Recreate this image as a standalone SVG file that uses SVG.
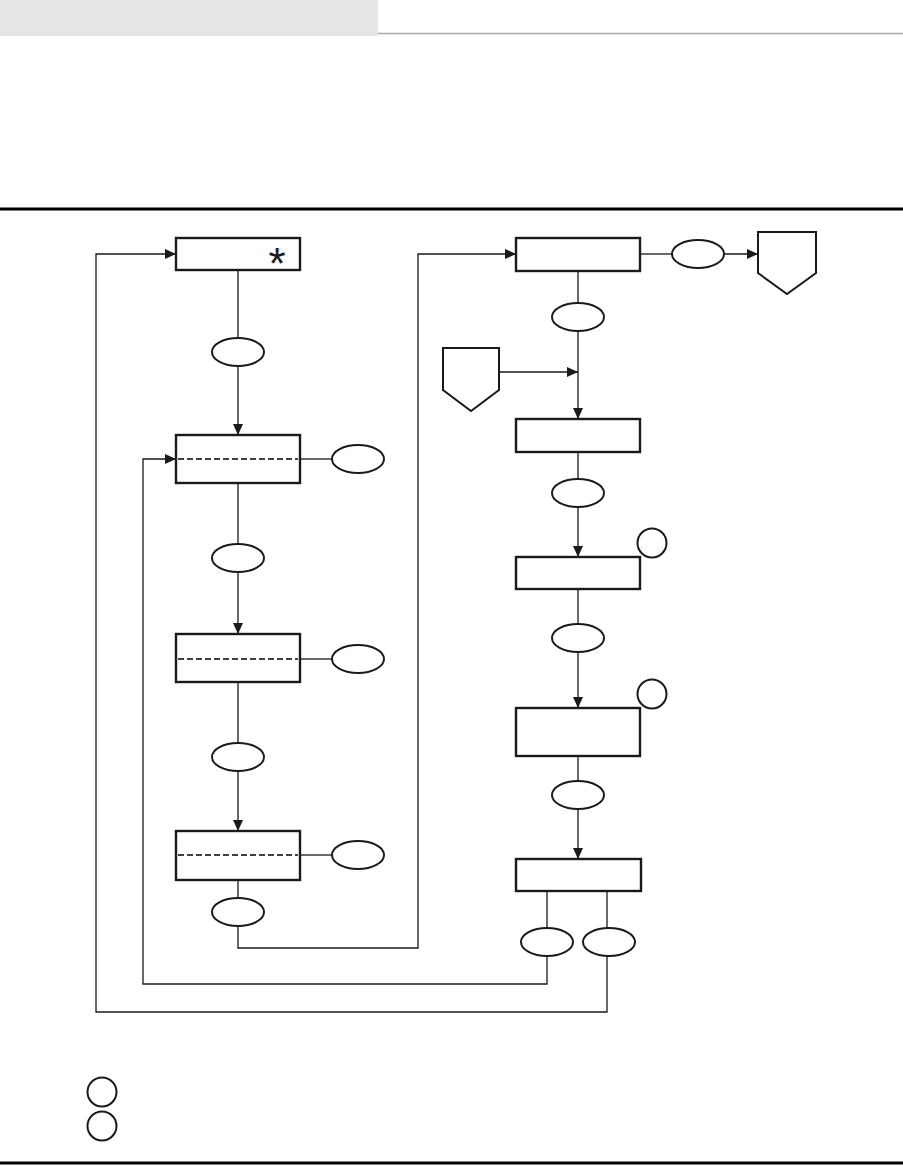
<svg xmlns="http://www.w3.org/2000/svg" width="903" height="1166" viewBox="0 0 903 1166">
<style>
.box{fill:#fff;stroke:#1a1a1a;stroke-width:2.4}
.ell{fill:#fff;stroke:#1a1a1a;stroke-width:2}
.circ{fill:none;stroke:#1a1a1a;stroke-width:2}
.ln{fill:none;stroke:#1a1a1a;stroke-width:1.3}
.dash{fill:none;stroke:#000;stroke-width:1.4;stroke-dasharray:6 3}
.pent{fill:#fff;stroke:#1a1a1a;stroke-width:2}
</style>
<defs>
<marker id="ah" markerUnits="userSpaceOnUse" markerWidth="12" markerHeight="10" refX="11" refY="5" orient="auto">
<path d="M0,0 L11,5 L0,10 Z" fill="#1a1a1a"/>
</marker>
</defs>
<rect width="903" height="1166" fill="#fff"/>
<rect x="0" y="0" width="378" height="36" fill="#e5e5e5"/>
<line x1="378" y1="33.5" x2="903" y2="33.5" stroke="#aaa" stroke-width="1.5"/>
<line x1="0" y1="209" x2="903" y2="209" stroke="#000" stroke-width="3"/>
<line x1="0" y1="1163" x2="903" y2="1163" stroke="#000" stroke-width="3"/>

<g id="connectors">
<path class="ln" d="M238,270 V338"/>
<path class="ln" d="M238,366 V435" marker-end="url(#ah)"/>
<path class="ln" d="M300,459 H332"/>
<path class="ln" d="M238,483 V544"/>
<path class="ln" d="M238,572 V634" marker-end="url(#ah)"/>
<path class="ln" d="M300,659 H332"/>
<path class="ln" d="M238,682 V743"/>
<path class="ln" d="M238,771 V831" marker-end="url(#ah)"/>
<path class="ln" d="M300,855 H332"/>
<path class="ln" d="M238,880 V898"/>
<path class="ln" d="M238,926 V948 H418 V254 H516" marker-end="url(#ah)"/>
<path class="ln" d="M640,254 H672"/>
<path class="ln" d="M724,254 H758" marker-end="url(#ah)"/>
<path class="ln" d="M578,271 V303"/>
<path class="ln" d="M578,331 V419" marker-end="url(#ah)"/>
<path class="ln" d="M499,372 H578" marker-end="url(#ah)"/>
<path class="ln" d="M578,452 V479"/>
<path class="ln" d="M578,507 V557" marker-end="url(#ah)"/>
<path class="ln" d="M578,589 V624"/>
<path class="ln" d="M578,652 V708" marker-end="url(#ah)"/>
<path class="ln" d="M578,756 V781"/>
<path class="ln" d="M578,809 V859" marker-end="url(#ah)"/>
<path class="ln" d="M547,891 V928"/>
<path class="ln" d="M607,891 V928"/>
<path class="ln" d="M547,956 V984 H143 V459 H176" marker-end="url(#ah)"/>
<path class="ln" d="M607,956 V1012 H96 V254 H176" marker-end="url(#ah)"/>
</g>

<g id="n1"><rect class="box" x="176" y="238" width="124" height="32"/>
<text x="277" y="279" font-family="Liberation Sans, sans-serif" font-size="44" text-anchor="middle" fill="#1a1a1a">*</text></g>
<g id="e1"><ellipse class="ell" cx="238" cy="352" rx="26" ry="14"/></g>
<g id="n2"><rect class="box" x="176" y="435" width="124" height="48"/><line class="dash" x1="178" y1="459" x2="298" y2="459"/></g>
<g id="e2"><ellipse class="ell" cx="358" cy="459" rx="26" ry="14"/></g>
<g id="e3"><ellipse class="ell" cx="238" cy="558" rx="26" ry="14"/></g>
<g id="n3"><rect class="box" x="176" y="634" width="124" height="48"/><line class="dash" x1="178" y1="659" x2="298" y2="659"/></g>
<g id="e4"><ellipse class="ell" cx="358" cy="659" rx="26" ry="14"/></g>
<g id="e5"><ellipse class="ell" cx="238" cy="757" rx="26" ry="14"/></g>
<g id="n4"><rect class="box" x="176" y="831" width="124" height="49"/><line class="dash" x1="178" y1="855" x2="298" y2="855"/></g>
<g id="e6"><ellipse class="ell" cx="358" cy="855" rx="26" ry="14"/></g>
<g id="e7"><ellipse class="ell" cx="238" cy="912" rx="26" ry="14"/></g>

<g id="n5"><rect class="box" x="516" y="238" width="124" height="33"/></g>
<g id="e8"><ellipse class="ell" cx="698" cy="254" rx="26" ry="14"/></g>
<g id="p1"><path class="pent" d="M758,232 H816 V273 L787,294 L758,273 Z"/></g>
<g id="e9"><ellipse class="ell" cx="578" cy="317" rx="26" ry="14"/></g>
<g id="p2"><path class="pent" d="M443,348 H499 V390 L471,411 L443,390 Z"/></g>
<g id="n6"><rect class="box" x="516" y="419" width="124" height="33"/></g>
<g id="e10"><ellipse class="ell" cx="578" cy="493" rx="26" ry="14"/></g>
<g id="c1"><circle class="circ" cx="652" cy="543" r="14.5"/></g>
<g id="n7"><rect class="box" x="516" y="557" width="124" height="32"/></g>
<g id="e11"><ellipse class="ell" cx="578" cy="638" rx="26" ry="14"/></g>
<g id="c2"><circle class="circ" cx="652" cy="694" r="14.5"/></g>
<g id="n8"><rect class="box" x="516" y="708" width="124" height="48"/></g>
<g id="e12"><ellipse class="ell" cx="578" cy="795" rx="26" ry="14"/></g>
<g id="n9"><rect class="box" x="516" y="859" width="125" height="32"/></g>
<g id="e13"><ellipse class="ell" cx="547" cy="942" rx="26" ry="14"/></g>
<g id="e14"><ellipse class="ell" cx="609" cy="942" rx="26" ry="14"/></g>

<g id="legend">
<circle class="circ" cx="102" cy="1092" r="14.5"/>
<circle class="circ" cx="102" cy="1126" r="14.5"/>
</g>
</svg>
